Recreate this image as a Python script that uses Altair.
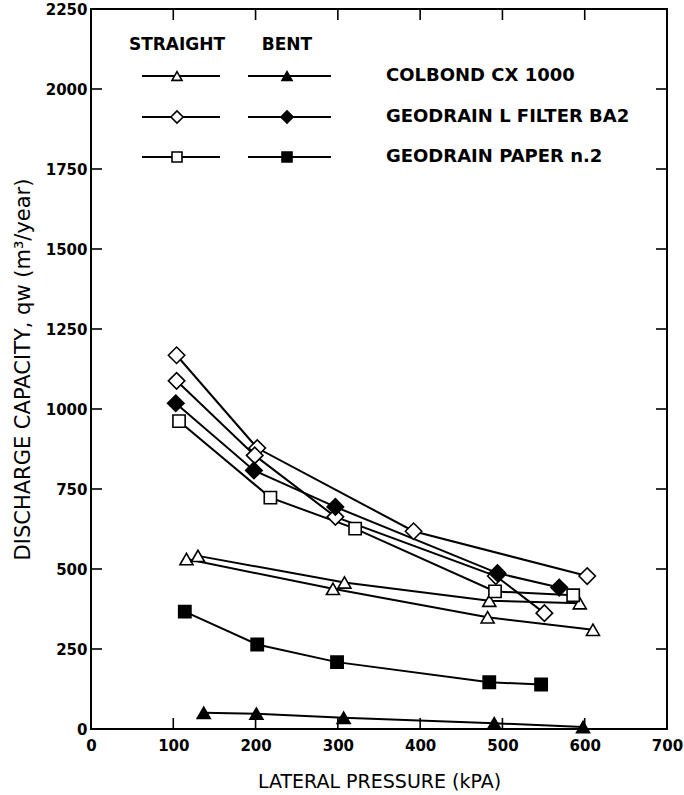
import altair as alt
import pandas as pd

# Lateral pressure (kPa) and discharge capacity q_w (m³/year) for every test run
cx_straight_1_p = [116, 294, 482, 610]
cx_straight_1_q = [531, 438, 349, 310]
cx_straight_2_p = [130, 308, 484, 594]
cx_straight_2_q = [541, 458, 401, 393]
cx_bent_p = [137, 201, 307, 490, 598]
cx_bent_q = [51, 48, 35, 18, 6]

ba2_straight_1_p = [104, 202, 392, 603]
ba2_straight_1_q = [1168, 878, 618, 478]
ba2_straight_2_p = [104, 199, 297, 492, 551]
ba2_straight_2_q = [1088, 855, 663, 478, 362]
ba2_bent_p = [103, 198, 297, 494, 569]
ba2_bent_q = [1018, 808, 694, 487, 442]

paper_straight_p = [107, 218, 321, 491, 586]
paper_straight_q = [962, 723, 626, 430, 418]
paper_bent_p = [114, 202, 299, 484, 547]
paper_bent_q = [367, 264, 209, 146, 139]

products = ["COLBOND  CX 1000", "GEODRAIN L FILTER BA2", "GEODRAIN  PAPER n.2"]
conditions = ["STRAIGHT", "BENT"]

x_ticks = [0, 100, 200, 300, 400, 500, 600, 700]
y_ticks = [0, 250, 500, 750, 1000, 1250, 1500, 1750, 2000, 2250]

runs = [
    ("cx-s1", products[0], "STRAIGHT", cx_straight_1_p, cx_straight_1_q),
    ("cx-s2", products[0], "STRAIGHT", cx_straight_2_p, cx_straight_2_q),
    ("ba2-s1", products[1], "STRAIGHT", ba2_straight_1_p, ba2_straight_1_q),
    ("ba2-s2", products[1], "STRAIGHT", ba2_straight_2_p, ba2_straight_2_q),
    ("paper-s", products[2], "STRAIGHT", paper_straight_p, paper_straight_q),
    ("cx-b", products[0], "BENT", cx_bent_p, cx_bent_q),
    ("ba2-b", products[1], "BENT", ba2_bent_p, ba2_bent_q),
    ("paper-b", products[2], "BENT", paper_bent_p, paper_bent_q),
]

rows = []
for run, product, cond, ps, qs in runs:
    for i, (p, q) in enumerate(zip(ps, qs)):
        rows.append({"run": run, "product": product, "cond": cond, "seq": i, "p": p, "q": q})
df = pd.DataFrame(rows)

W, H = 576, 720
FONT = "DejaVu Sans"

x_scale = alt.Scale(domain=[0, 700], nice=False, zero=False)
y_scale = alt.Scale(domain=[0, 2250], nice=False, zero=False)

X = alt.X(
    "p:Q",
    scale=x_scale,
    axis=alt.Axis(
        values=x_ticks, format="d", ticks=False, domain=False, grid=False,
        labelFont=FONT, labelFontSize=15, labelFontWeight="bold", labelColor="black",
        labelPadding=9, labelFlush=False, labelOverlap=False,
        title="LATERAL PRESSURE (kPA)", titleFont=FONT, titleFontSize=19,
        titleFontWeight="normal", titleColor="black", titlePadding=19,
    ),
)
Y = alt.Y(
    "q:Q",
    scale=y_scale,
    axis=alt.Axis(
        values=y_ticks, format="d", ticks=False, domain=False, grid=False,
        labelFont=FONT, labelFontSize=15, labelFontWeight="bold", labelColor="black",
        labelPadding=4, labelFlush=False, labelOverlap=False,
        title="DISCHARGE CAPACITY, qw (m³/year)", titleFont=FONT, titleFontSize=21,
        titleFontWeight="normal", titleColor="black", titlePadding=12,
    ),
)

fill_scale = alt.Scale(domain=conditions, range=["white", "black"])
base = alt.Chart(df)

lines = base.mark_line(color="black", strokeWidth=2).encode(
    x=X, y=Y, detail="run:N", order="seq:Q"
)

# One marker layer per product; straight (open) runs come first in the data,
# so the filled markers of the bent runs sit on top of them
marker_shapes = dict(zip(products, ["triangle-up", "diamond", "square"]))
marker_sizes = dict(zip(products, [170, 270, 150]))
point_layers = [
    base.transform_filter(alt.datum.product == prod)
    .mark_point(filled=True, stroke="black", strokeWidth=1.6, opacity=1,
                shape=marker_shapes[prod], size=marker_sizes[prod])
    .encode(x=X, y=Y, fill=alt.Fill("cond:N", scale=fill_scale, legend=None))
    for prod in products
]

# Inward tick marks on all four sides of the frame
TICK = 11
xt = alt.Chart(pd.DataFrame({"p": x_ticks[1:-1]}))
yt = alt.Chart(pd.DataFrame({"q": y_ticks[1:-1]}))
tick_style = dict(color="black", strokeWidth=1.6)
ticks = [
    xt.mark_rule(**tick_style).encode(x=X, y=alt.value(H - TICK), y2=alt.value(H)),
    xt.mark_rule(**tick_style).encode(x=X, y=alt.value(0), y2=alt.value(TICK)),
    yt.mark_rule(**tick_style).encode(y=Y, x=alt.value(0), x2=alt.value(TICK)),
    yt.mark_rule(**tick_style).encode(y=Y, x=alt.value(W - TICK), x2=alt.value(W)),
]

# Key drawn inside the plot: column headers, then one row per product
key_sizes = dict(zip(products, [100, 150, 100]))
key_layers = []
one = alt.Chart(pd.DataFrame({"k": [0]}))
head_y = 36
for label, cx in [("STRAIGHT", 86), ("BENT", 196)]:
    key_layers.append(
        one.mark_text(text=label, font=FONT, fontSize=17, fontWeight="bold",
                      color="black", align="center", baseline="middle")
        .encode(x=alt.value(cx), y=alt.value(head_y))
    )
row_ys = [67, 108, 148]
for product, ry in zip(products, row_ys):
    for cond, x0, x1, xm in [("STRAIGHT", 51, 129, 86), ("BENT", 157, 240, 196)]:
        key_layers.append(
            one.mark_rule(color="black", strokeWidth=2)
            .encode(x=alt.value(x0), x2=alt.value(x1), y=alt.value(ry))
        )
        key_layers.append(
            one.mark_point(filled=True, stroke="black", strokeWidth=1.6, opacity=1,
                           size=key_sizes[product], shape=marker_shapes[product],
                           fill="white" if cond == "STRAIGHT" else "black")
            .encode(x=alt.value(xm), y=alt.value(ry))
        )
    key_layers.append(
        one.mark_text(text=product, font=FONT, fontSize=18, fontWeight="bold", color="black",
                      align="left", baseline="middle")
        .encode(x=alt.value(295), y=alt.value(ry))
    )

chart = alt.layer(lines, *point_layers, *ticks, *key_layers).properties(
    width=W, height=H,
    background="white",
    autosize=alt.AutoSizeParams(type="none"),
    padding={"left": 91, "top": 9, "right": 17, "bottom": 66},
).configure_view(stroke="black", strokeWidth=2)

chart.save("out.html", embed_options={"renderer": "svg", "actions": False})
